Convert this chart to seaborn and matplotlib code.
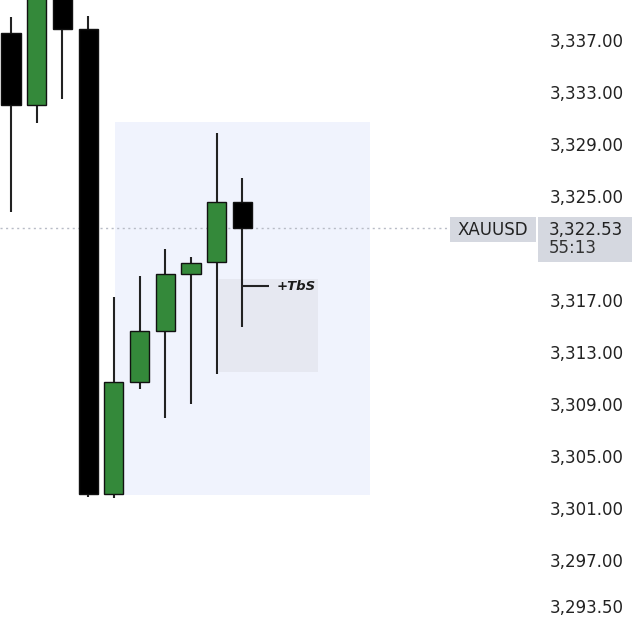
import matplotlib
matplotlib.use("Agg")
import matplotlib.pyplot as plt
import matplotlib.patches as mpatches
import seaborn as sns
import numpy as np

# ---- data ----
opens  = [3337.55, 3332.00, 3341.50, 3337.85, 3302.10, 3310.70, 3314.60, 3319.00, 3319.90, 3324.55]
highs  = [3338.80, 3342.50, 3342.50, 3338.85, 3317.25, 3318.85, 3320.90, 3320.30, 3329.85, 3326.40]
lows   = [3323.75, 3330.60, 3332.45, 3301.85, 3301.75, 3310.15, 3307.90, 3309.00, 3311.30, 3314.90]
closes = [3332.00, 3341.50, 3337.85, 3302.10, 3310.70, 3314.60, 3319.00, 3319.85, 3324.55, 3322.53]
price_ticks = [3337.0, 3333.0, 3329.0, 3325.0, 3317.0, 3313.0, 3309.0, 3305.0, 3301.0, 3297.0, 3293.5]
last_price = 3322.53
symbol = "XAUUSD"
countdown = "55:13"
zone_label = "+TbS"
zone_level = 3318.08
zone_box = (4.05, 13.97, 3302.0, 3330.7)      # x0, x1, y0, y1 (blue zone)
gap_box = (8.1, 11.95, 3311.45, 3318.6)       # grey imbalance box

sns.set_theme(style="white")
plt.rcParams['font.family'] = ['DejaVu Sans']

fig = plt.figure(figsize=(6.4, 6.4), dpi=100)
ax = fig.add_axes([0, 0, 540 / 640, 1])

x = np.arange(len(opens))
o = np.array(opens); c = np.array(closes); h = np.array(highs); l = np.array(lows)
up = c >= o
green = "#34893a"

# zones
ax.add_patch(mpatches.Rectangle((zone_box[0], zone_box[2]), zone_box[1] - zone_box[0],
                                zone_box[3] - zone_box[2], facecolor="#f0f3fd",
                                edgecolor="none", zorder=0))
ax.add_patch(mpatches.Rectangle((gap_box[0], gap_box[2]), gap_box[1] - gap_box[0],
                                gap_box[3] - gap_box[2], facecolor="#e6e8f1",
                                edgecolor="none", zorder=0.5))

# last price dotted line
ax.axhline(last_price, xmin=0, xmax=450 / 540, color="#b8bcc6", lw=1.0,
           ls=(0, (1.5, 2.5)), zorder=0.8)

# wicks
ax.vlines(x, l, h, color="#222222", lw=1.5, zorder=1)
# bodies
bottoms = np.minimum(o, c)
heights = np.abs(c - o)
colors = [green if u else "#000000" for u in up]
ax.bar(x, heights, bottom=bottoms, width=0.75, color=colors,
       edgecolor="#111111", linewidth=1.0, zorder=2)

# +TbS marker
ax.hlines(zone_level, 9.0, 10.05, color="#222222", lw=1.5, zorder=3)
ax.text(10.35, zone_level, zone_label, fontsize=9.5, fontweight="bold",
        fontstyle="italic", color="#1a1a1a", va="center", ha="left", zorder=3)

ax.set_xlim(-0.43, 20.58)
ax.set_ylim(3290.85, 3340.08)

ax.yaxis.tick_right()
ax.set_yticks(price_ticks)
ax.set_yticklabels([f"{v:,.2f}" for v in price_ticks])
ax.tick_params(axis="y", length=0, pad=7, labelsize=12, labelcolor="#222222")
ax.set_xticks([])
for s in ax.spines.values():
    s.set_visible(False)

# price label boxes
fig.patches.append(mpatches.FancyBboxPatch((450 / 640, (640 - 242) / 640), 86 / 640, 25 / 640,
                                           boxstyle="square,pad=0", transform=fig.transFigure,
                                           facecolor="#d5d8e0", edgecolor="none"))
fig.patches.append(mpatches.FancyBboxPatch((538 / 640, (640 - 262) / 640), 94 / 640, 45 / 640,
                                           boxstyle="square,pad=0", transform=fig.transFigure,
                                           facecolor="#d5d8e0", edgecolor="none"))
fig.text(493 / 640, (640 - 230) / 640, symbol, ha="center", va="center",
         fontsize=12, color="#222222")
fig.text(549 / 640, (640 - 230) / 640, f"{last_price:,.2f}", ha="left", va="center",
         fontsize=12, color="#222222")
fig.text(549 / 640, (640 - 248) / 640, countdown, ha="left", va="center",
         fontsize=12, color="#333333")

fig.savefig("out.png", dpi=100)
